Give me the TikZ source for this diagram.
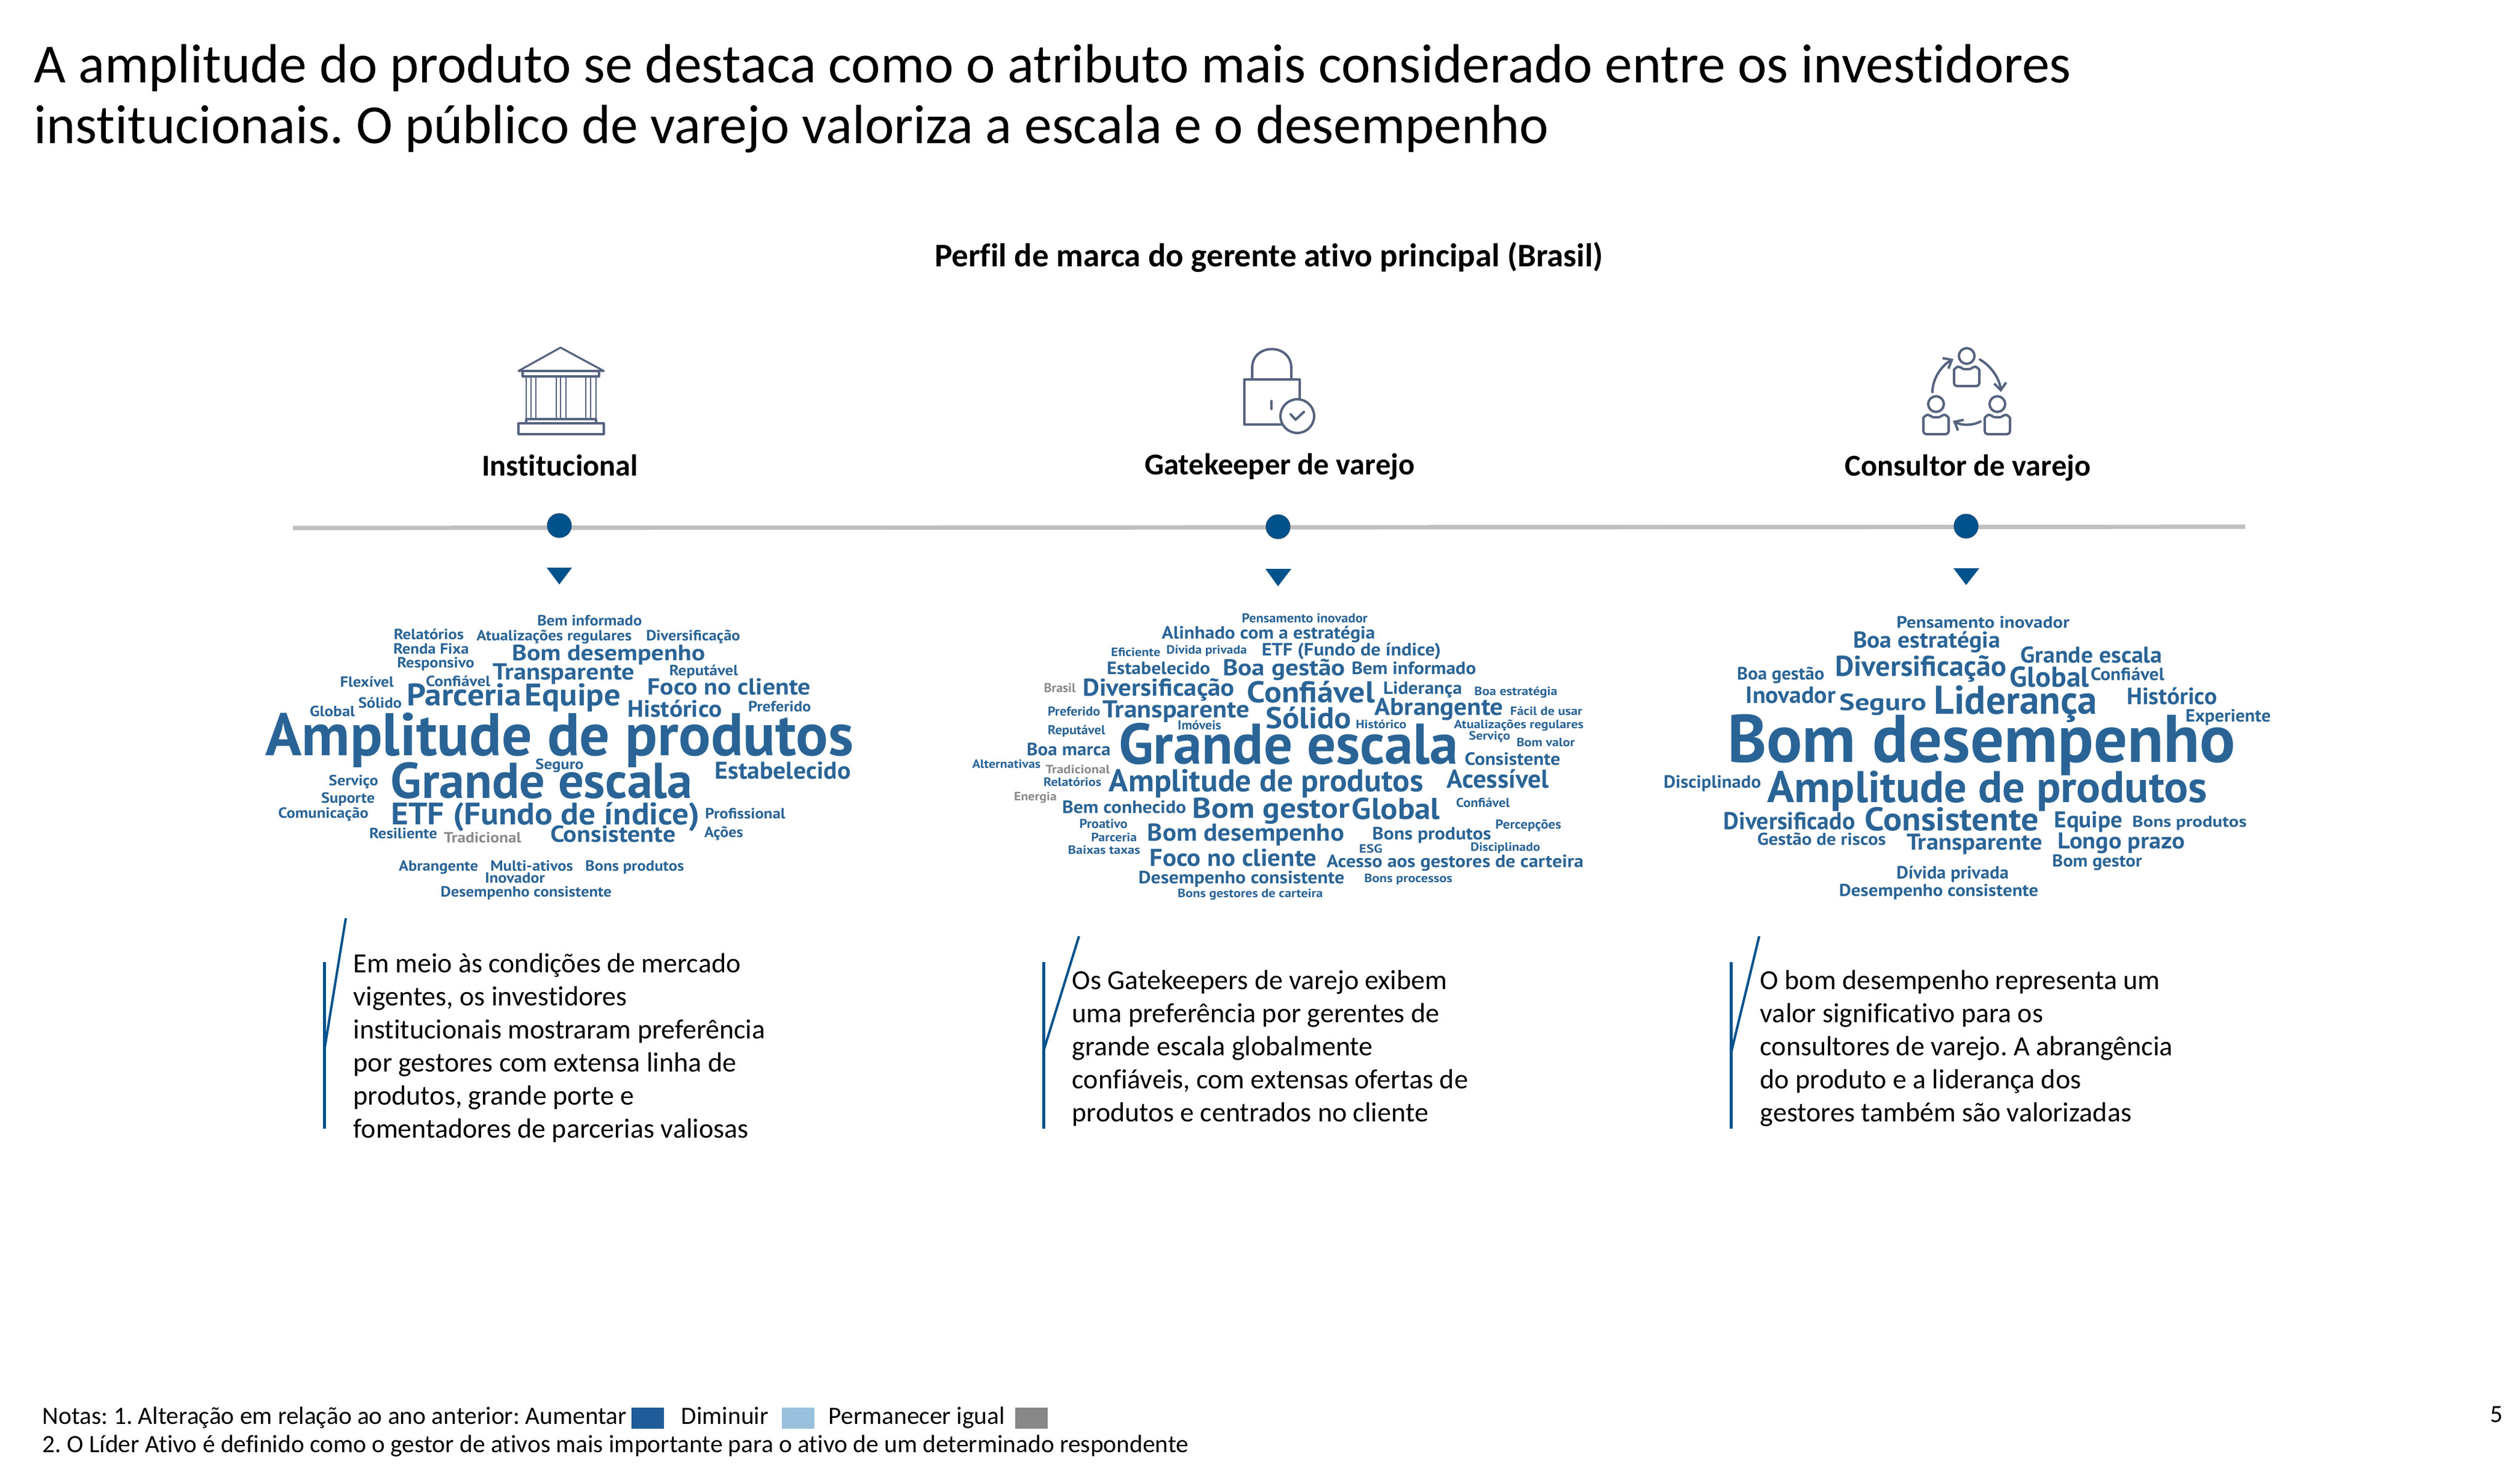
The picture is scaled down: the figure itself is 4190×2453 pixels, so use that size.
\documentclass[tikz,border=0pt]{standalone}
\usepackage{fontspec}
\usepackage{graphicx}
\setmainfont{Carlito}[Ligatures=NoCommon]
\newfontfamily\wcf{PT Sans}
\usetikzlibrary{arrows.meta}
\definecolor{wcblue}{HTML}{2A6496}
\definecolor{wcgray}{HTML}{8A8A8A}
\definecolor{markc}{HTML}{00528C}
\definecolor{markd}{HTML}{1F4E79}
\definecolor{iconc}{HTML}{56637F}
\definecolor{rulec}{HTML}{BFBFBF}
\definecolor{swblue}{HTML}{1F5C99}
\definecolor{swlight}{HTML}{99C0DC}
\definecolor{swgray}{HTML}{878787}
\newcounter{wcn}
\frenchspacing
\newcommand{\wcword}[6][wcblue]{%
 \stepcounter{wcn}%
 \pgfmathsetmacro\xa{\ox+#2/\sx}\pgfmathsetmacro\xb{\ox+#3/\sx}%
 \pgfmathsetmacro\yb{\oy+#4/\sy}\pgfmathsetmacro\fs{#5/\sy/0.7*0.25}%
 \pgfmathsetmacro\wdt{(\xb-\xa)*0.25}%
 \node[anchor=base west,inner sep=0pt,text=#1] (w\thewcn) at (\xa,\yb)
  {\resizebox{\wdt pt}{\height}{\fontsize{\fs pt}{\fs pt}\selectfont\wcf\bfseries #6}};}
\newcommand{\fpx}[1]{\pgfmathsetmacro\fsz{#1*0.25}\fontsize{\fsz pt}{\fsz pt}\selectfont}
\newcommand{\person}[2]{%
 \begin{scope}[shift={(#1,#2)}]
 \draw[iconline] (0,0) circle (13);
 \draw[iconline,rounded corners=1.2pt] (-21,50) -- (21,50) -- (21,28)
   .. controls (21,22) and (16,18) .. (10,18) .. controls (6,22) and (-6,22) .. (-10,18)
   .. controls (-16,18) and (-21,22) .. (-21,28) -- cycle;
 \end{scope}}
\tikzset{
 x=0.25pt,y=-0.25pt,
 iconline/.style={draw=iconc,line width=1.0pt,line cap=round,line join=round},
 iconthin/.style={draw=iconc,line width=0.7pt},
 iconarrow/.style={iconline,-{Straight Barb[length=3pt,width=5pt,line width=1pt]}},
 dot/.style={circle,fill=markc,draw=markd,line width=0.3pt,minimum size=10pt,inner sep=0pt},
 tri/.style={fill=markc,draw=none},
 txt/.style={anchor=base west,inner sep=0pt,text=black},
 hd/.style={anchor=base,inner sep=0pt,font=\bfseries,text=black},
 bar/.style={draw=markc,line width=1.25pt},
 slant/.style={draw=markc,line width=1pt},
 swatch/.style={minimum width=13.5pt,minimum height=8.75pt,inner sep=0pt,anchor=north west},
}
\begin{document}
\begin{tikzpicture}
\useasboundingbox (0,0) rectangle (4190,2453);
\fill[white] (0,0) rectangle (4190,2453);
% title
\node[txt] (title1) at (56,137) {\fpx{91.7}A amplitude do produto se destaca como o atributo mais considerado entre os investidores};
\node[txt] (title2) at (56,238) {\fpx{91.7}institucionais. O público de varejo valoriza a escala e o desempenho};
\node[hd] (head) at (2110,443) {\fpx{55}Perfil de marca do gerente ativo principal (Brasil)};
% column heads
\node[hd] (h1) at (931,791) {\fpx{50.5}Institucional};
\node[hd] (h2) at (2128,789) {\fpx{50.5}Gatekeeper de varejo};
\node[hd] (h3) at (3272,791) {\fpx{50.5}Consultor de varejo};
% timeline
\coordinate (tla) at (487,878);
\coordinate (tlb) at (3733,876);
\draw[rulec,line width=1.8pt] (tla) -- (tlb);
\node[dot] (d1) at (930,874) {};
\node[dot] (d2) at (2125,876) {};
\node[dot] (d3) at (3269,875) {};
\fill[tri] (909,944) -- (951,944) -- (930,972) -- cycle;
\fill[tri] (2104,946) -- (2147,946) -- (2125,975) -- cycle;
\fill[tri] (3248,945) -- (3291,945) -- (3269,973) -- cycle;
% icon 1: building
\draw[iconline,line width=0.8pt] (862,617) -- (932,578) -- (1004,617) -- cycle;
\draw[iconline,line width=0.8pt] (869,617) rectangle (996,626);
\foreach \cx in {875,883,891,925,932,941,974,982,991} \draw[iconthin] (\cx,626) -- (\cx,697);
\draw[iconline,line width=0.8pt] (875,697) rectangle (991,704);
\draw[iconline,line width=0.8pt] (862,704) rectangle (1004,722);
% icon 2: lock
\draw[iconline] (2082,631) -- (2082,612) .. controls (2082,570) and (2147,570) .. (2147,612) -- (2147,631);
\draw[iconline] (2069,631) rectangle (2161,706);
\draw[iconline] (2114,667) -- (2114,680);
\draw[iconline,fill=white] (2157,692) circle (28);
\draw[iconline] (2146,689) -- (2154,698) -- (2168,685);
% icon 3: people
\person{3270}{592}
\person{3219}{672}
\person{3321}{672}
\draw[iconarrow] (3213,652) .. controls (3213,630) and (3228,608) .. (3248,597);
\draw[iconarrow] (3292,598) .. controls (3310,608) and (3325,630) .. (3327,652);
\draw[iconarrow] (3293,701) .. controls (3280,708) and (3262,708) .. (3247,700);
% word cloud 1
\def\ox{400}\def\oy{980}\def\sx{1.4255}\def\sy{2.9}
\wcword{702}{950}{175}{50}{Bem informado}
\wcword{362}{528}{243}{50}{Relatórios}
\wcword{558}{926}{248}{50}{Atualizações regulares}
\wcword{960}{1183}{248}{50}{Diversificação}
\wcword{361}{540}{313}{50}{Renda Fixa}
\wcword{642}{1100}{345}{75}{Bom desempenho}
\wcword{370}{553}{378}{50}{Responsivo}
\wcword{597}{933}{436}{78}{Transparente}
\wcword{1015}{1178}{415}{50}{Reputável}
\wcword{235}{362}{470}{50}{Flexível}
\wcword{438}{591}{468}{50}{Confiável}
\wcword{963}{1350}{508}{78}{Foco no cliente}
\wcword{393}{665}{562}{105}{Parceria}
\wcword{673}{900}{562}{105}{Equipe}
\wcword{278}{381}{572}{50}{Sólido}
\wcword{916}{1140}{615}{80}{Histórico}
\wcword{1202}{1351}{590}{50}{Preferido}
\wcword{163}{270}{613}{50}{Global}
\wcword{58}{1452}{803}{203}{Amplitude de produtos}
\wcword{698}{812}{868}{50}{Seguro}
\wcword{1123}{1445}{915}{82}{Estabelecido}
\wcword{355}{1070}{1008}{170}{Grande escala}
\wcword{208}{325}{948}{50}{Serviço}
\wcword{190}{317}{1030}{50}{Suporte}
\wcword{88}{302}{1102}{50}{Comunicação}
\wcword{356}{1087}{1135}{105}{ETF (Fundo de índice)}
\wcword{1100}{1290}{1105}{50}{Profissional}
\wcword{304}{465}{1202}{50}{Resiliente}
\wcword[wcgray]{481}{664}{1222}{50}{Tradicional}
\wcword{733}{1030}{1220}{78}{Consistente}
\wcword{1098}{1190}{1195}{50}{Ações}
\wcword{374}{562}{1360}{50}{Abrangente}
\wcword{591}{787}{1360}{50}{Multi-ativos}
\wcword{816}{1050}{1360}{50}{Bons produtos}
\wcword{578}{720}{1417}{50}{Inovador}
\wcword{473}{878}{1483}{50}{Desempenho consistente}
% word cloud 2
\def\ox{1580}\def\oy{990}\def\sx{1.4255}\def\sy{3}
\wcword{690}{988}{137}{45}{Pensamento inovador}
\wcword{500}{1006}{218}{62}{Alinhado com a estratégia}
\wcword{380}{497}{305}{42}{Eficiente}
\wcword{511}{702}{292}{42}{Dívida privada}
\wcword{737}{1162}{302}{62}{ETF (Fundo de índice)}
\wcword{370}{615}{393}{62}{Estabelecido}
\wcword{645}{935}{400}{80}{Boa gestão}
\wcword{950}{1245}{395}{62}{Bem informado}
\wcword{313}{673}{502}{85}{Diversificação}
\wcword{703}{1005}{535}{105}{Confiável}
\wcword{1025}{1212}{492}{62}{Liderança}
\wcword[wcgray]{221}{296}{485}{45}{Brasil}
\wcword{1241}{1438}{498}{42}{Boa estratégia}
\wcword{230}{354}{600}{45}{Preferido}
\wcword{360}{708}{610}{85}{Transparente}
\wcword{1005}{1310}{597}{85}{Abrangente}
\wcword{1326}{1497}{597}{42}{Fácil de usar}
\wcword{747}{950}{665}{105}{Sólido}
\wcword{538}{641}{670}{45}{Imóveis}
\wcword{960}{1080}{665}{42}{Histórico}
\wcword{1193}{1500}{665}{42}{Atualizações regulares}
\wcword{230}{366}{695}{45}{Reputável}
\wcword{1228}{1326}{722}{42}{Serviço}
\wcword{1341}{1479}{755}{42}{Bom valor}
\wcword{398}{1203}{840}{200}{Grande escala}
\wcword{180}{379}{798}{62}{Boa marca}
\wcword{1218}{1445}{848}{62}{Consistente}
\wcword{51}{213}{862}{42}{Alternativas}
\wcword[wcgray]{225}{377}{890}{42}{Tradicional}
\wcword{375}{1120}{980}{110}{Amplitude de produtos}
\wcword{1176}{1418}{960}{90}{Acessível}
\wcword{220}{357}{952}{42}{Relatórios}
\wcword[wcgray]{150}{251}{1025}{42}{Energia}
\wcword{264}{558}{1088}{62}{Bem conhecido}
\wcword{573}{945}{1112}{100}{Bom gestor}
\wcword{951}{1160}{1118}{105}{Global}
\wcword{1198}{1325}{1058}{45}{Confiável}
\wcword{305}{419}{1163}{45}{Proativo}
\wcword{1291}{1447}{1165}{45}{Percepções}
\wcword{466}{933}{1226}{85}{Bom desempenho}
\wcword{999}{1281}{1218}{62}{Bons produtos}
\wcword{333}{441}{1227}{42}{Parceria}
\wcword{278}{449}{1292}{42}{Baixas taxas}
\wcword{968}{1023}{1284}{42}{ESG}
\wcword{1232}{1397}{1277}{42}{Disciplinado}
\wcword{471}{868}{1350}{85}{Foco no cliente}
\wcword{891}{1500}{1358}{62}{Acesso aos gestores de carteira}
\wcword{445}{933}{1437}{62}{Desempenho consistente}
\wcword{980}{1189}{1432}{42}{Bons processos}
\wcword{538}{882}{1507}{42}{Bons gestores de carteira}
% word cloud 3
\def\ox{2740}\def\oy{990}\def\sx{1.4255}\def\sy{3}
\wcword{588}{998}{163}{58}{Pensamento inovador}
\wcword{485}{834}{262}{80}{Boa estratégia}
\wcword{882}{1218}{338}{80}{Grande escala}
\wcword{443}{849}{403}{100}{Diversificação}
\wcword{856}{1045}{458}{100}{Global}
\wcword{1048}{1223}{425}{62}{Confiável}
\wcword{210}{417}{422}{62}{Boa gestão}
\wcword{231}{444}{538}{82}{Inovador}
\wcword{453}{659}{575}{82}{Seguro}
\wcword{677}{1064}{592}{140}{Liderança}
\wcword{1134}{1348}{545}{82}{Histórico}
\wcword{1273}{1475}{630}{62}{Experiente}
\wcword{187}{1392}{832}{235}{Bom desempenho}
\wcword{36}{267}{962}{62}{Disciplinado}
\wcword{282}{1325}{1033}{155}{Amplitude de produtos}
\wcword{178}{490}{1168}{85}{Diversificado}
\wcword{513}{925}{1175}{115}{Consistente}
\wcword{962}{1124}{1160}{80}{Equipe}
\wcword{1147}{1418}{1157}{55}{Bons produtos}
\wcword{258}{563}{1247}{60}{Gestão de riscos}
\wcword{612}{934}{1270}{80}{Transparente}
\wcword{971}{1272}{1265}{80}{Longo prazo}
\wcword{957}{1170}{1355}{60}{Bom gestor}
\wcword{588}{854}{1413}{62}{Dívida privada}
\wcword{452}{924}{1502}{60}{Desempenho consistente}
% callouts
\coordinate (b1a) at (539,1600); \coordinate (b1b) at (539,1877);
\coordinate (s1a) at (575,1527); \coordinate (s1b) at (539,1748);
\coordinate (b2a) at (1735,1600); \coordinate (b2b) at (1735,1877);
\coordinate (s2a) at (1794,1557); \coordinate (s2b) at (1735,1748);
\coordinate (b3a) at (2878,1600); \coordinate (b3b) at (2878,1877);
\coordinate (s3a) at (2925,1557); \coordinate (s3b) at (2879,1748);
\draw[bar] (b1a) -- (b1b); \draw[slant] (s1a) -- (s1b);
\draw[bar] (b2a) -- (b2b); \draw[slant] (s2a) -- (s2b);
\draw[bar] (b3a) -- (b3b); \draw[slant] (s3a) -- (s3b);
\node[txt] (c1a) at (587,1617) {\fpx{46}Em meio às condições de mercado};
\node[txt] (c1b) at (587,1672) {\fpx{46}vigentes, os investidores};
\node[txt] (c1c) at (587,1727) {\fpx{46}institucionais mostraram preferência};
\node[txt] (c1d) at (587,1782) {\fpx{46}por gestores com extensa linha de};
\node[txt] (c1e) at (587,1837) {\fpx{46}produtos, grande porte e};
\node[txt] (c1f) at (587,1892) {\fpx{46}fomentadores de parcerias valiosas};
\node[txt] (c2a) at (1782,1645) {\fpx{46}Os Gatekeepers de varejo exibem};
\node[txt] (c2b) at (1782,1700) {\fpx{46}uma preferência por gerentes de};
\node[txt] (c2c) at (1782,1755) {\fpx{46}grande escala globalmente};
\node[txt] (c2d) at (1782,1810) {\fpx{46}confiáveis, com extensas ofertas de};
\node[txt] (c2e) at (1782,1865) {\fpx{46}produtos e centrados no cliente};
\node[txt] (c3a) at (2926,1645) {\fpx{46}O bom desempenho representa um};
\node[txt] (c3b) at (2926,1700) {\fpx{46}valor significativo para os};
\node[txt] (c3c) at (2926,1755) {\fpx{46}consultores de varejo. A abrangência};
\node[txt] (c3d) at (2926,1810) {\fpx{46}do produto e a liderança dos};
\node[txt] (c3e) at (2926,1865) {\fpx{46}gestores também são valorizadas};
% notes
\node[txt] (n1) at (70,2368) {\fpx{41.4}Notas: 1. Alteração em relação ao ano anterior: Aumentar};
\node[swatch,fill=swblue] (s1) at (1049,2340) {};
\node[txt] (n2) at (1132,2368) {\fpx{41.4}Diminuir};
\node[swatch,fill=swlight] (s2) at (1299,2340) {};
\node[txt] (n3) at (1377,2368) {\fpx{41.4}Permanecer igual};
\node[swatch,fill=swgray] (s3) at (1687,2340) {};
\node[txt] (n4) at (70,2415) {\fpx{41.4}2. O Líder Ativo é definido como o gestor de ativos mais importante para o ativo de um determinado respondente};
\node[txt] (pg) at (4140,2365) {\fpx{41.4}5};
\end{tikzpicture}
\end{document}
